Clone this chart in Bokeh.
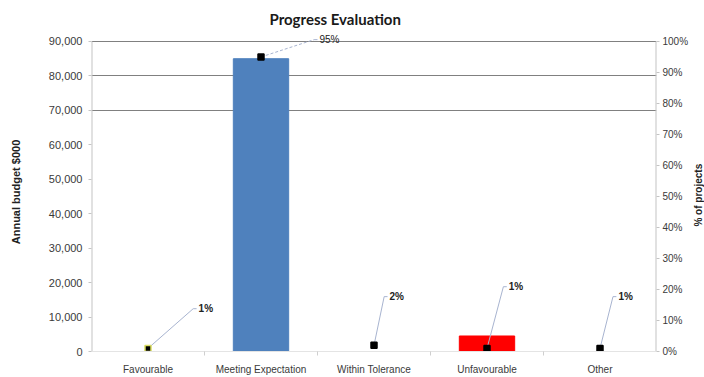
from math import pi

from bokeh.core.properties import value
from bokeh.embed import file_html
from bokeh.layouts import row
from bokeh.models import (BooleanFilter, CDSView, ColumnDataSource, FixedTicker,
                          Label, LabelSet, LinearAxis, NumeralTickFormatter,
                          PrintfTickFormatter, Range1d)
from bokeh.plotting import figure
from bokeh.resources import INLINE

# ---- data -------------------------------------------------------------
categories = ["Favourable", "Meeting Expectation", "Within Tolerance",
              "Unfavourable", "Other"]
budget_k = [0, 85000, 0, 4500, 0]          # Annual budget $000
pct_projects = [1, 95, 2, 1, 1]            # % of projects
bar_colors = ["#c8d84a", "#4f81bd", "#9bbb59", "#ff0000", "#8064a2"]

budget_ticks = [0, 10000, 20000, 30000, 40000, 50000, 60000, 70000, 80000, 90000]
pct_ticks = [0, 10, 20, 30, 40, 50, 60, 70, 80, 90, 100]

# ---- layout helpers (label placement, in axis units) ------------------
label_dx = [0.40, 0.47, 0.09, 0.145, 0.115]
label_pct = [13.8, 100.6, 17.7, 20.9, 17.7]
label_weight = ["bold", "normal", "bold", "bold", "bold"]
leader_dashed = [False, True, False, False, False]
marker_outline = ["#d8dc60", "black", "black", "black", "black"]

# a little head room above the top gridline for the 95% label
HEAD = 1.029
budget_max = budget_ticks[-1] * HEAD
pct_max = pct_ticks[-1] * HEAD

xs = [i + 0.5 for i in range(len(categories))]
lx = [x + d for x, d in zip(xs, label_dx)]
lx_end = [x + 0.03 for x in lx]

src = ColumnDataSource(dict(
    x=xs, budget=budget_k, pct=pct_projects, color=bar_colors,
    lx=lx, lx_end=lx_end, ly=label_pct, outline=marker_outline,
    weight=label_weight, text=[f"{v}%" for v in pct_projects],
))

FONT = "Liberation Sans"
TXT = "#3a3a3a"
AXIS = "#c4c4c4"
LEADER = "#a8b4d0"

p = figure(width=691, height=377, output_backend="svg", toolbar_location=None,
           x_range=Range1d(0, len(categories)), y_range=Range1d(0, budget_max),
           min_border_left=91, min_border_right=32, min_border_top=32,
           min_border_bottom=25, outline_line_color=None,
           background_fill_color="white", border_fill_color="white")
p.extra_y_ranges = {"pct": Range1d(0, pct_max)}

p.title.text = "Progress Evaluation"
p.title.text_font = "Lato"
p.title.text_font_size = "15px"
p.title.text_font_style = "bold"
p.title.text_color = "#1a1a1a"
p.title.align = "left"
p.title.offset = 178
p.title.standoff = 10

# grid: only upper lines are drawn
p.xgrid.grid_line_color = None
p.ygrid.ticker = FixedTicker(ticks=[70000, 80000, 90000])
p.ygrid.grid_line_color = "#808080"
p.ygrid.grid_line_width = 1

# x axis with category names, tick marks between categories
xa = p.xaxis[0]
xa.ticker = FixedTicker(ticks=xs, minor_ticks=[1, 2, 3, 4])
xa.major_label_overrides = {x: c for x, c in zip(xs, categories)}
xa.major_tick_line_color = None
xa.minor_tick_line_color = "#cfcfcf"
xa.minor_tick_in = 0
xa.minor_tick_out = 4
xa.axis_line_color = "#e4e4e4"
xa.major_label_standoff = 6
xa.major_label_text_font = FONT
xa.major_label_text_font_size = "10px"
xa.major_label_text_color = TXT

# left axis: budget
ya = p.yaxis[0]
ya.ticker = FixedTicker(ticks=budget_ticks)
ya.formatter = NumeralTickFormatter(format="0,0")
ya.axis_line_color = None
ya.major_tick_line_color = AXIS
ya.major_tick_in = 0
ya.major_tick_out = 3
ya.minor_tick_line_color = None
ya.major_label_standoff = 6
ya.major_label_text_font = FONT
ya.major_label_text_font_size = "11px"
ya.major_label_text_color = TXT
ya.axis_label = "Annual budget $000"
ya.axis_label_standoff = 24
ya.axis_label_text_font = FONT
ya.axis_label_text_font_size = "11px"
ya.axis_label_text_font_style = "bold"
ya.axis_label_text_color = "#222222"

# right axis: % of projects (its title sits in the narrow strip beside)
ra = LinearAxis(y_range_name="pct", ticker=FixedTicker(ticks=pct_ticks),
                formatter=PrintfTickFormatter(format="%d%%"))
ra.axis_line_color = None
ra.major_tick_line_color = AXIS
ra.major_tick_in = 0
ra.major_tick_out = 3
ra.minor_tick_line_color = None
ra.major_label_standoff = 3
ra.major_label_text_font = FONT
ra.major_label_text_font_size = "10px"
ra.major_label_text_color = TXT
p.add_layout(ra, "right")

# axis lines run from 0 up to the top gridline only
p.segment(x0=[0, len(categories)], y0=[0, 0],
          x1=[0, len(categories)], y1=[budget_ticks[-1]] * 2,
          line_color=AXIS, line_width=2)

# budget bars
p.vbar(x="x", top="budget", bottom=0, width=0.49, color="color", source=src)

# leader lines from points to labels
solid_view = CDSView(filter=BooleanFilter([not d for d in leader_dashed]))
dash_view = CDSView(filter=BooleanFilter(leader_dashed))
p.segment(x0="x", y0="pct", x1="lx", y1="ly", y_range_name="pct",
          line_color=LEADER, line_width=1, source=src, view=solid_view)
p.segment(x0="x", y0="pct", x1="lx", y1="ly", y_range_name="pct",
          line_color=LEADER, line_width=1, line_dash="3 2",
          source=src, view=dash_view)
p.segment(x0="lx", y0="ly", x1="lx_end", y1="ly", y_range_name="pct",
          line_color=LEADER, line_width=1, source=src)

# % of projects points
p.scatter(x="x", y="pct", y_range_name="pct", marker="square", size=6,
          fill_color="black", line_color="outline", line_width=1.5, source=src)

labels = LabelSet(x="lx_end", y="ly", y_range_name="pct", text="text",
                  source=src, x_offset=2, text_baseline="middle",
                  text_font=value(FONT), text_font_size="10px",
                  text_font_style="weight", text_color="#222222")
p.add_layout(labels)

# narrow strip holding the right-hand axis title, read bottom to top
side = figure(width=13, height=377, output_backend="svg", toolbar_location=None,
              x_range=Range1d(0, 1), y_range=Range1d(0, 1),
              min_border_left=0, min_border_right=0, min_border_top=32,
              min_border_bottom=25, outline_line_color=None,
              background_fill_color="white", border_fill_color="white")
side.axis.visible = False
side.grid.visible = False
side.add_layout(Label(x=0.5, y=0.49, text="% of projects", angle=pi / 2,
                      text_align="center", text_baseline="middle",
                      text_font=FONT, text_font_size="10px",
                      text_font_style="bold", text_color="#222222"))

open("out.html", "w").write(file_html(row(p, side), INLINE))
